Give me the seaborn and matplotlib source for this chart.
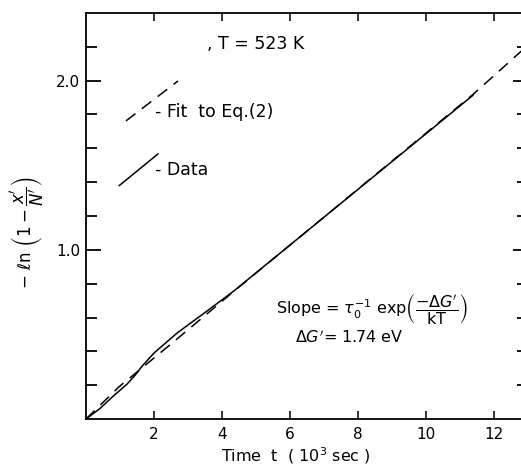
import matplotlib
matplotlib.use("Agg")
import matplotlib.pyplot as plt
import seaborn as sns
import pandas as pd
from matplotlib.legend_handler import HandlerLine2D
from matplotlib.lines import Line2D

# values
data_t = [0, 0.4, 0.8, 1.2, 1.45, 1.66, 2.0, 2.69, 3.47, 4.35, 11.39]
data_y = [0, 0.06, 0.135, 0.205, 0.26, 0.315, 0.39, 0.51, 0.625, 0.757, 1.915]

fit_t = [0, 0.97, 2.54, 4.35, 11.39, 13.0]
fit_y = [0, 0.19, 0.45, 0.755, 1.92, 2.21]

x_ticks = [2, 4, 6, 8, 10, 12]
y_major = [1.0, 2.0]
y_minor = [0.2, 0.4, 0.6, 0.8, 1.2, 1.4, 1.6, 1.8, 2.2]

sns.set_style("ticks")
plt.rcParams['font.family'] = ['DejaVu Sans']
plt.rcParams['mathtext.fontset'] = 'dejavusans'
plt.rcParams['lines.scale_dashes'] = False
plt.rcParams['text.color'] = 'black'
plt.rcParams['axes.labelcolor'] = 'black'


class SlantHandler(HandlerLine2D):
    # legend key drawn as a slanted segment, offsets in units of fontsize
    def __init__(self, x0, x1, y0, y1, **kw):
        super().__init__(**kw)
        self.pts = (x0, x1, y0, y1)

    def create_artists(self, legend, orig_handle, xdescent, ydescent,
                       width, height, fontsize, trans):
        x0, x1, y0, y1 = self.pts
        yc = height / 2 - ydescent
        line = Line2D([x0 * fontsize - xdescent, x1 * fontsize - xdescent],
                      [yc + y0 * fontsize, yc + y1 * fontsize])
        self.update_prop(line, orig_handle, legend)
        line.set_transform(trans)
        return [line]


df_data = pd.DataFrame({'t': data_t, 'y': data_y})
df_fit = pd.DataFrame({'t': fit_t, 'y': fit_y})

fig = plt.figure(figsize=(5.21, 4.68), dpi=100)
ax = fig.add_axes([86 / 521, 49 / 468, 442 / 521, 406 / 468])

sns.lineplot(data=df_fit, x='t', y='y', color='black', lw=1.1, ax=ax,
             estimator=None)
fit_line = ax.lines[-1]
fit_line.set_dashes((8.6, 5.8))
sns.lineplot(data=df_data, x='t', y='y', color='black', lw=1.1, ax=ax,
             estimator=None)
data_line = ax.lines[-1]

ax.set_xlim(0, 13)
ax.set_ylim(0, 2.4)
ax.set_xticks(x_ticks)
ax.set_xticklabels([str(v) for v in x_ticks])
ax.set_yticks(y_major)
ax.set_yticklabels(['%.1f' % v for v in y_major])
ax.set_yticks(y_minor, minor=True)

for s in ax.spines.values():
    s.set_linewidth(1.3)
    s.set_color('black')
ax.spines['right'].set_visible(False)  # cut off by the page edge

ax.tick_params(which='both', direction='in', top=True, right=True,
               colors='black', labelsize=11)
ax.tick_params(axis='x', which='major', length=6, width=1.1, pad=6)
ax.tick_params(axis='y', which='major', length=11, width=1.3, pad=4)
ax.tick_params(axis='y', which='minor', length=8, width=1.3)

ax.set_xlabel('Time  t  ( 10$^3$ sec )', fontsize=11.5)
ax.xaxis.set_label_coords((296 - 86) / 442, -0.065)
ax.set_ylabel(r'$-\ \mathrm{\ell n}\ \left(1-\dfrac{x^{\prime}}{N^{\prime}}\right)$',
              fontsize=12)
ax.yaxis.set_label_coords(-0.088, 0.46)

ax.text(3.55, 2.215, ', T = 523 K', fontsize=12.5, va='center')
ax.text(5.6, 0.645,
        r'Slope = $\tau_0^{-1}$ exp$\left(\dfrac{-\Delta G^{\prime}}{\mathrm{kT}}\right)$',
        fontsize=11.5, va='center')
ax.text(6.15, 0.48, r'$\Delta G^{\prime}$= 1.74 eV', fontsize=11.5,
        va='center')

fs = 12.5
ax.legend([fit_line, data_line], ['- Fit  to Eq.(2)', '- Data'],
          handler_map={fit_line: SlantHandler(4.3 / fs, 41.8 / fs, -7.2 / fs, 21.6 / fs),
                       data_line: SlantHandler(-0.7 / fs, 27.4 / fs, -12.2 / fs, 10.8 / fs)},
          loc='upper left', bbox_to_anchor=((120 - 86) / 442, (419 - 103) / 406),
          frameon=False, fontsize=fs, handlelength=22 / fs, handletextpad=3.3 / fs,
          borderpad=0, borderaxespad=0, labelspacing=2.3)

fig.savefig('out.png', dpi=100)
